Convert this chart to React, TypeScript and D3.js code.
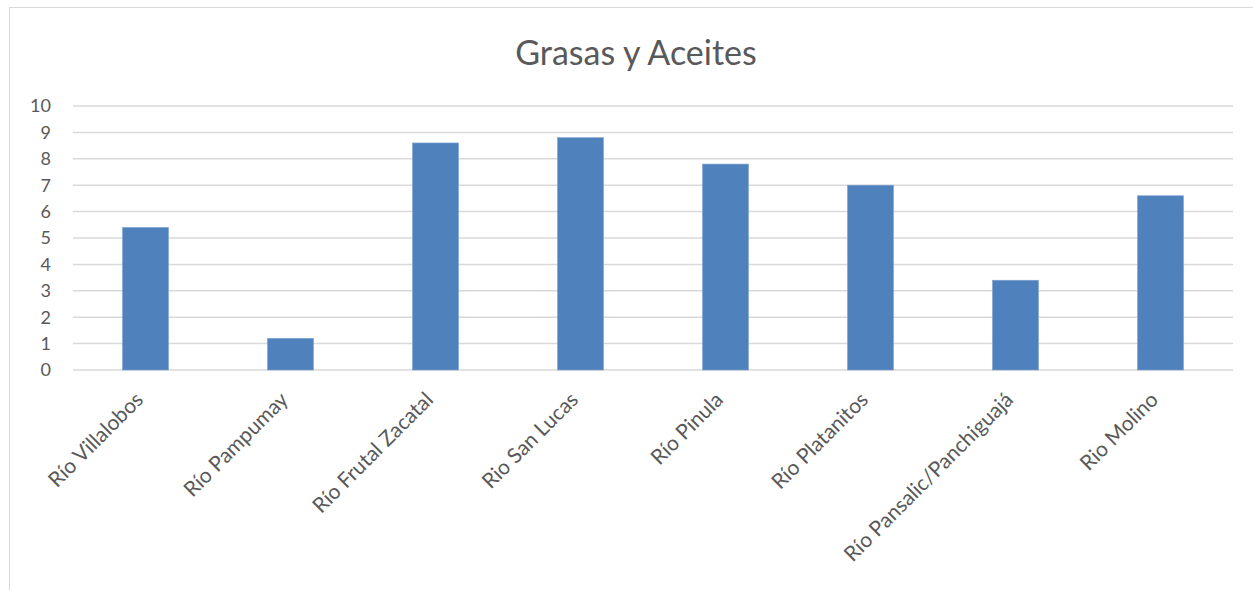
import React from "react";
import * as d3 from "d3";

const categories = [
  "Río Villalobos",
  "Río Pampumay",
  "Río Frutal Zacatal",
  "Rio San Lucas",
  "Río Pinula",
  "Río Platanitos",
  "Río Pansalic/Panchiguajá",
  "Rio Molino",
];
const values = [5.4, 1.2, 8.6, 8.8, 7.8, 7.0, 3.4, 6.6];
const yTicks = [0, 1, 2, 3, 4, 5, 6, 7, 8, 9, 10];
const title = "Grasas y Aceites";

const W = 1253;
const H = 590;
const FONT = "Lato, 'Open Sans', sans-serif";

export default function App() {
  const x = d3.scaleBand<string>().domain(categories).range([73, 1233]).padding(0);
  const y = d3.scaleLinear().domain([0, 10]).range([370, 106]);
  const barW = x.bandwidth() * 0.317;

  return (
    <div style={{ position: "fixed", left: 0, top: 0 }}>
      <svg width={W} height={H} style={{ display: "block", background: "#fff" }}>
        <rect x={9.5} y={7.5} width={W + 20} height={H + 20} fill="#fff" stroke="#D9D9D9" strokeWidth={1} />
        <text x={636} y={65} textAnchor="middle" fontFamily={FONT} fontSize={34} fill="#595959">
          {title}
        </text>
        {yTicks.map((t) => (
          <g key={t}>
            <line x1={73} x2={1233} y1={y(t)} y2={y(t)} stroke="#D9D9D9" strokeWidth={1.5} />
            <text x={51} y={y(t)} dy="0.36em" textAnchor="end" fontFamily={FONT} fontSize={18} fill="#595959">
              {t}
            </text>
          </g>
        ))}
        {categories.map((c, i) => {
          const cx = (x(c) as number) + x.bandwidth() / 2;
          return (
            <g key={c}>
              <rect
                x={cx - barW / 2}
                y={y(values[i])}
                width={barW}
                height={y(0) - y(values[i])}
                fill="#4F81BD"
                stroke="#7FA3D1"
                strokeWidth={0.6}
              />
              <text
                transform={`translate(${cx - 1},${401}) rotate(-45)`}
                textAnchor="end"
                fontFamily={FONT}
                fontSize={21}
                fill="#595959"
              >
                {c}
              </text>
            </g>
          );
        })}
      </svg>
    </div>
  );
}
